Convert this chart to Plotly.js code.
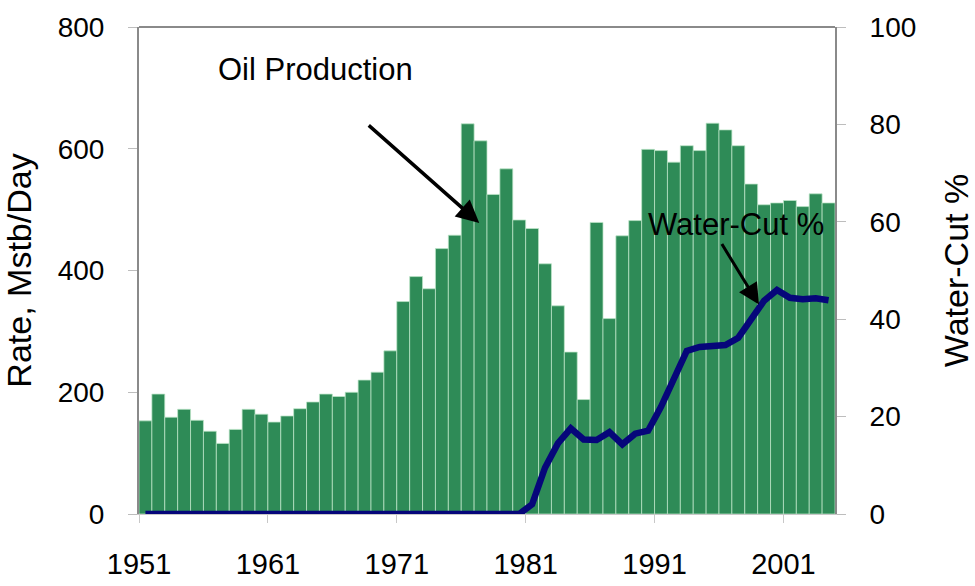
<!DOCTYPE html>
<html>
<head>
<meta charset="utf-8">
<script src="https://cdn.plot.ly/plotly-3.0.1.min.js"></script>
<style>html,body{margin:0;padding:0;background:#fff;}#chart{width:975px;height:586px;}</style>
</head>
<body>
<div id="chart"></div>
<script>
const years = [];
for (let y = 1951; y <= 2004; y++) years.push(y);

const oilRate = [153,197,159,172,154,136,116,139,172,164,
                 151,161,173,184,197,193,200,220,233,268,
                 349,390,370,436,458,641,613,525,567,483,
                 469,411,342,266,188,479,321,457,482,599,
                 597,578,605,597,642,631,605,542,508,511,
                 515,505,526,511];

const waterCut = [0,0,0,0,0,0,0,0,0,0,
                  0,0,0,0,0,0,0,0,0,0,
                  0,0,0,0,0,0,0,0,0,0,
                  2,9.5,14.5,17.6,15.3,15.2,16.8,14.3,16.5,17.1,
                  22,28,33.5,34.3,34.5,34.7,36.2,40,43.8,46,
                  44.4,44.1,44.3,43.9];

const tickYears = [1951,1961,1971,1981,1991,2001];

const sans = '"Liberation Sans", Arial, Helvetica, sans-serif';

const traces = [
  {
    type: 'bar',
    x: years,
    y: oilRate,
    width: 1,
    offset: 0,
    marker: {color: '#2e8b57', line: {color: 'rgba(190,230,200,0.75)', width: 1}},
    name: 'Oil Production',
    hoverinfo: 'x+y'
  },
  {
    type: 'scatter',
    mode: 'lines',
    x: years.map(y => y + 0.5),
    y: waterCut,
    yaxis: 'y2',
    line: {color: '#06067a', width: 6.5},
    cliponaxis: false,
    name: 'Water-Cut %'
  }
];

const layout = {
  width: 975,
  height: 586,
  margin: {l: 139, r: 140, t: 27, b: 72, pad: 0},
  paper_bgcolor: '#ffffff',
  plot_bgcolor: '#ffffff',
  showlegend: false,
  bargap: 0,
  xaxis: {
    range: [1951, 2005],
    tickmode: 'array',
    tickvals: tickYears,
    ticktext: tickYears.map(String),
    showgrid: false,
    zeroline: false,
    showline: true,
    linecolor: '#c8c8c8',
    linewidth: 1,
    ticks: 'outside',
    ticklen: 8,
    tickcolor: '#c8c8c8',
    ticklabelstandoff: 16,
    tickfont: {family: sans, size: 29, color: '#000'}
  },
  yaxis: {
    range: [0, 800],
    tickvals: [0,200,400,600,800],
    showgrid: false,
    zeroline: false,
    showline: true,
    linecolor: '#8a8a8a',
    linewidth: 2,
    ticks: 'outside',
    ticklen: 9,
    tickcolor: '#bdbdbd',
    ticklabelstandoff: 18,
    tickfont: {family: sans, size: 28, color: '#000'},
    title: {text: 'Rate, Mstb/Day', font: {family: sans, size: 34, color: '#000'}, standoff: 24}
  },
  yaxis2: {
    overlaying: 'y',
    side: 'right',
    range: [0, 100],
    tickvals: [0,20,40,60,80,100],
    showgrid: false,
    zeroline: false,
    showline: true,
    linecolor: '#8a8a8a',
    linewidth: 2,
    ticks: 'outside',
    ticklen: 9,
    tickcolor: '#bdbdbd',
    ticklabelstandoff: 18,
    tickfont: {family: sans, size: 28, color: '#000'},
    title: {text: 'Water-Cut %', font: {family: sans, size: 34, color: '#000'}, standoff: 34}
  },
  shapes: [
    {type: 'line', xref: 'paper', yref: 'paper', x0: 0, x1: 1, y0: 1, y1: 1,
     line: {color: '#8a8a8a', width: 2}}
  ],
  annotations: [
    {xref: 'x', yref: 'y', x: 1977.4, y: 478, ax: -112, ay: -99,
     text: '', showarrow: true, arrowhead: 2, arrowsize: 1.3, arrowwidth: 3.5, arrowcolor: '#000'},
    {xref: 'x', yref: 'y', x: 1964.7, y: 731, text: 'Oil Production', showarrow: false,
     font: {family: sans, size: 31, color: '#000'}},
    {xref: 'x', yref: 'y2', x: 1999.1, y: 43, ax: -38, ay: -62,
     text: '', showarrow: true, arrowhead: 2, arrowsize: 1.4, arrowwidth: 3, arrowcolor: '#000'},
    {xref: 'x', yref: 'y2', x: 1997.3, y: 59.5, text: 'Water-Cut %', showarrow: false,
     font: {family: sans, size: 31, color: '#000'}}
  ]
};

Plotly.newPlot('chart', traces, layout, {displayModeBar: false, staticPlot: true});
</script>
</body>
</html>
